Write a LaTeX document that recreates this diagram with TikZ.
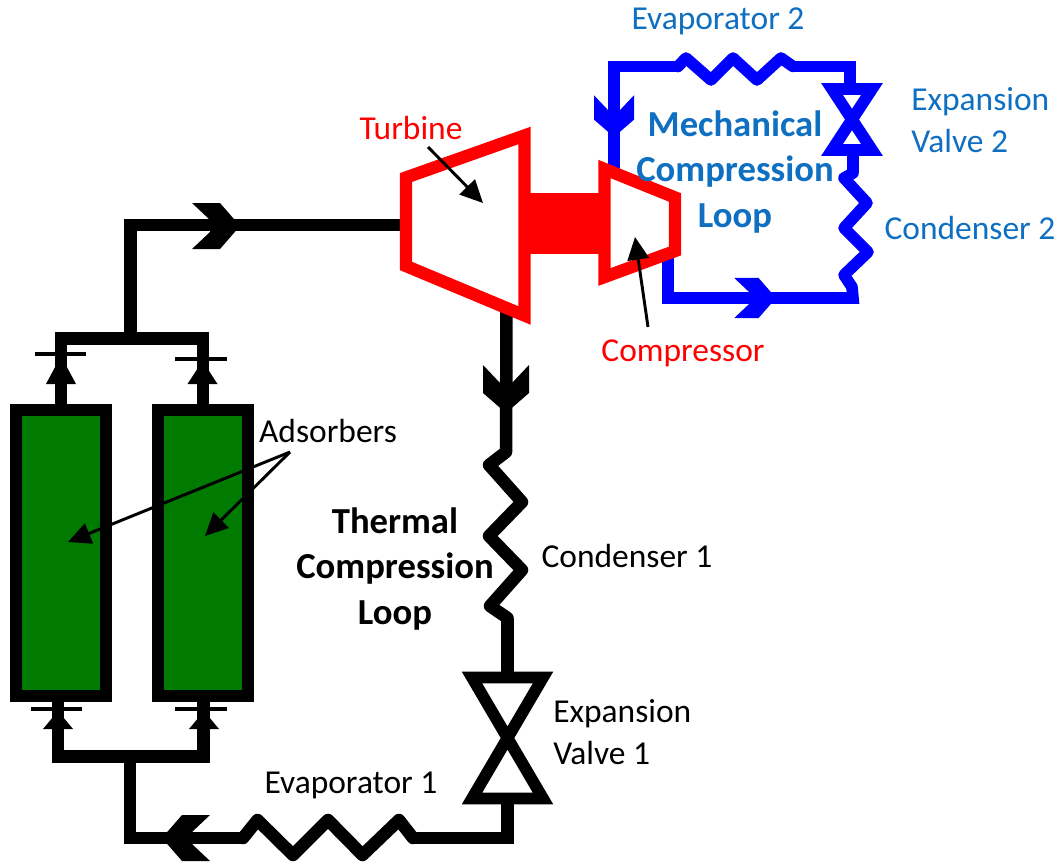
\documentclass[tikz,border=0pt]{standalone}
\usepackage{fontspec}
\setmainfont{Carlito}
\usepackage{xcolor}
\usetikzlibrary{arrows.meta,calc}
\definecolor{loopgreen}{HTML}{007A00}
\definecolor{labelblue}{HTML}{0F6FC1}
\tikzset{
  pipe/.style={draw=black, line width=9.4pt},
  bluepipe/.style={draw=blue, line width=8.7pt},
  coil/.style={line join=round, line cap=round},
  machine/.style={draw=red, line width=9.3pt, line join=miter},
  valve/.style={line width=8.8pt, line join=miter},
  adsorber/.style={draw=black, fill=loopgreen, line width=9pt, minimum width=67.5pt, minimum height=215pt},
  callout/.style={draw=black, line width=2.2pt, -{Triangle[length=17pt,width=16pt]}},
  lbl/.style={font=\fontsize{25.1}{31}\selectfont, inner sep=0pt},
  looplbl/.style={font=\fontsize{27.5}{34}\selectfont\bfseries, inner sep=0pt, align=center},
  chev/.pic={\path[pic actions] (0,0) -- (-20,23) -- (-48,23) -- (-30,6) -- (-30,-6) -- (-48,-23) -- (-20,-23) -- cycle;}
}
\newcommand{\CheckMark}[5]{%
  \fill (#1-15,#3) -- (#1,#2+2) -- (#1+15,#3) -- cycle;
  \draw[line width=3.4pt] (#4,#2) -- (#5,#2);}
\begin{document}
\begin{tikzpicture}[x=0.75pt,y=-0.75pt]
\useasboundingbox (0,0) rectangle (1062,863);
\node (adsL) [adsorber] at (61,553) {};
\node (adsR) [adsorber] at (203,553) {};
\coordinate (hdrTL) at (61,338.5);
\coordinate (hdrTR) at (203,338.5);
\coordinate (hdrTM) at (130.5,338.5);
\coordinate (inCorner) at (130.5,225);
\coordinate (turbIn) at (402,225);
\coordinate (turbOut) at (506.5,310);
\coordinate (cond1Top) at (506,452);
\coordinate (cond1Bot) at (507.5,618);
\coordinate (valve1Top) at (507.5,678);
\coordinate (valve1Bot) at (507.5,798);
\coordinate (evap1Corner) at (507.5,838);
\coordinate (evap1R) at (413,838);
\coordinate (evap1L) at (243,838);
\coordinate (lowCorner) at (130,838);
\coordinate (lowM) at (130,756.5);
\coordinate (lowL) at (58,756.5);
\coordinate (lowR) at (203.5,756.5);
\draw[pipe] (adsL) -- (hdrTL) -- (hdrTR) -- ($(adsR.north)+(0,8)$);
\draw[pipe] (hdrTM) -- (inCorner) -- (turbIn);
\draw[pipe] (turbOut) -- (cond1Top);
\draw[pipe, coil] (cond1Top) -- (489,465) -- (522,502) -- (489,536) -- (522,570) -- (490,606) -- (cond1Bot);
\draw[pipe] (cond1Bot) -- (valve1Top);
\draw[pipe] (valve1Bot) -- (evap1Corner) -- (evap1R);
\draw[pipe, coil] (evap1R) -- (399,820) -- (362.5,855) -- (328,820) -- (293,855) -- (257.5,820) -- (evap1L);
\draw[pipe] (evap1L) -- (lowCorner) -- (lowM);
\draw[pipe] (lowL |- adsL.south) -- (lowL) -- (lowR) -- (lowR |- adsR.south);
\draw[valve] (472,677.5) -- (543,677.5) -- (472,798.5) -- (543,798.5) -- cycle;
\CheckMark{61}{354}{384}{35}{86}
\CheckMark{202.5}{359}{384}{175}{227}
\CheckMark{58}{709}{729}{30.5}{82}
\CheckMark{204}{709}{729}{175}{226.5}
\pic[fill=black] at (240,226) {chev};
\pic[fill=black, rotate=-90] at (506,413) {chev};
\pic[fill=black, rotate=180] at (162,838) {chev};
\coordinate (mechTop) at (614,172);
\coordinate (blueTL) at (614,66.5);
\coordinate (evap2L) at (678,66.5);
\coordinate (evap2R) at (793,66.5);
\coordinate (blueTR) at (850,66.5);
\coordinate (valve2Top) at (850,88);
\coordinate (valve2Bot) at (853,151);
\coordinate (cond2Top) at (853,173);
\coordinate (cond2Bot) at (852,287);
\coordinate (blueBR) at (853,298);
\coordinate (blueBL) at (668,298);
\coordinate (compOut) at (668,255);
\draw[bluepipe] (mechTop) -- (blueTL) -- (evap2L);
\draw[bluepipe, coil] (evap2L) -- (686,58) -- (711,80) -- (733,58) -- (757,80) -- (781,58) -- (evap2R);
\draw[bluepipe] (evap2R) -- (blueTR) -- (valve2Top);
\draw[bluepipe] (valve2Bot) -- (cond2Top);
\draw[bluepipe, coil] (cond2Top) -- (844,178) -- (867,203) -- (844,228) -- (868,252) -- (844,275) -- (cond2Bot);
\draw[bluepipe] (cond2Bot) -- (blueBR) -- (blueBL) -- (compOut);
\draw[draw=blue, valve] (832,89) -- (872,89) -- (832,150) -- (872,150) -- cycle;
\pic[fill=blue, scale=.87] at (776,298) {chev};
\pic[fill=blue, scale=.87, rotate=-90] at (614,137) {chev};
\draw[machine] (406,177.5) -- (524.5,135.5) -- (524.5,315.5) -- (406,266) -- cycle;
\fill[red] (524.5,193) rectangle (604,254);
\draw[machine] (604.5,169) -- (675,197.5) -- (675,251) -- (604.5,277) -- cycle;
\node (turbineLbl) [lbl, text=red] at (411,128) {Turbine};
\node (compressorLbl) [lbl, text=red] at (683,353) {Compressor};
\node (evap2Lbl) [lbl, text=labelblue] at (718,21) {Evaporator 2};
\node (valve2Lbl) [lbl, text=labelblue, anchor=west, align=left] at (911,120) {Expansion\\Valve 2};
\node (cond2Lbl) [lbl, text=labelblue] at (970,228) {Condenser 2};
\node (mechLbl) [looplbl, text=labelblue] at (735,172) {Mechanical\\Compression\\Loop};
\node (thermLbl) [looplbl] at (395,569) {Thermal\\Compression\\Loop};
\node (adsLbl) [lbl] at (328,431) {Adsorbers};
\node (cond1Lbl) [lbl] at (627,556) {Condenser 1};
\node (valve1Lbl) [lbl, anchor=west, align=left] at (553,732) {Expansion\\Valve 1};
\node (evap1Lbl) [lbl] at (351,785) {Evaporator 1};
\coordinate (adsFrom) at (290,452);
\draw[callout] (adsFrom) -- (68,542);
\draw[callout] (adsFrom) -- (205,536);
\coordinate (turbFrom) at (428,147);
\draw[callout] (turbFrom) -- (483,203);
\coordinate (compFrom) at (648,327);
\draw[callout] (compFrom) -- (635,237);
\end{tikzpicture}
\end{document}
